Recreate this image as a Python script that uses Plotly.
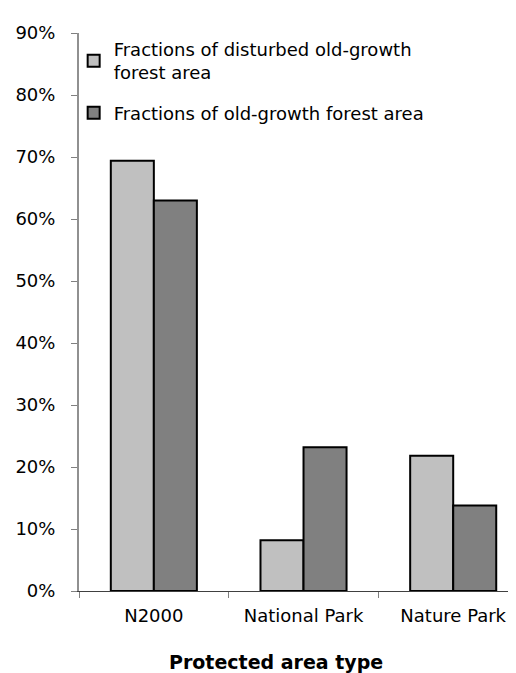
import plotly.graph_objects as go

categories = ["N2000", "National Park", "Nature Park"]
disturbed = [0.694, 0.082, 0.218]
old_growth = [0.630, 0.232, 0.138]
series_names = ["Fractions of disturbed old-growth<br>forest area",
                "Fractions of old-growth forest area"]
y_ticks = [0, 0.1, 0.2, 0.3, 0.4, 0.5, 0.6, 0.7, 0.8, 0.9]
x_title = "Protected area type"

FONT = "DejaVu Sans, Arial, sans-serif"

fig = go.Figure()
fig.add_trace(go.Bar(x=categories, y=disturbed, name=series_names[0], legendgroup="a",
                     marker=dict(color="#c0c0c0", line=dict(color="black", width=2))))
fig.add_trace(go.Bar(x=categories, y=old_growth, name=series_names[1], legendgroup="b",
                     marker=dict(color="#808080", line=dict(color="black", width=2))))

fig.update_layout(
    width=516, height=673,
    margin=dict(l=71, r=0, t=25, b=90),
    paper_bgcolor="white", plot_bgcolor="white",
    barmode="group", bargap=0.425, bargroupgap=0,
    font=dict(family=FONT, size=18, color="black"),
    legend=dict(x=-0.012, y=1.004, xanchor="left", yanchor="top",
                bgcolor="rgba(0,0,0,0)", font=dict(size=18),
                tracegroupgap=14),
    showlegend=True,
    annotations=[dict(text="<b>" + x_title + "</b>", xref="paper", yref="paper",
                      x=0.443, y=-0.128, xanchor="center", yanchor="middle",
                      showarrow=False, font=dict(size=19))],
)
fig.update_xaxes(
    range=[-0.5, 2.473], showline=True, linecolor="#404040", linewidth=1,
    ticks="outside", tickson="boundaries", ticklen=6, tickcolor="#808080",
    tickfont=dict(size=18), showgrid=False, ticklabelstandoff=8,
)
fig.update_yaxes(
    range=[0, 0.9], tickvals=y_ticks, tickformat=".0%",
    showline=True, linecolor="#909090", linewidth=2,
    ticks="outside", ticklen=6, tickcolor="#808080",
    tickfont=dict(size=18), showgrid=False, zeroline=False,
    ticklabelstandoff=12,
)

fig.write_html("out.html")
